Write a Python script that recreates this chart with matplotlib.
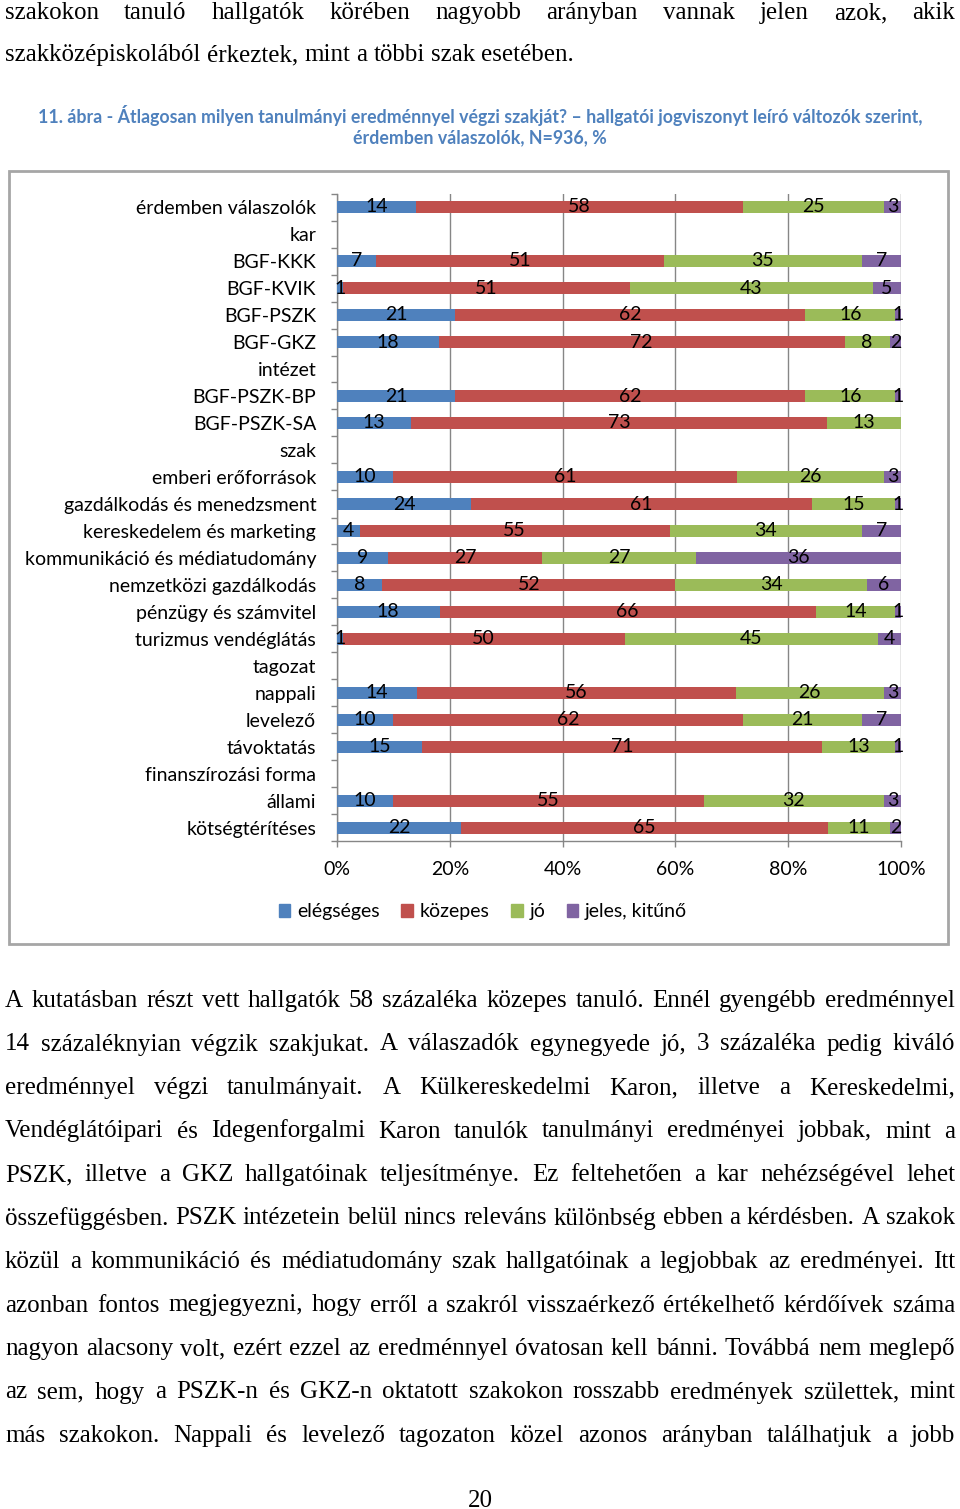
import numpy as np
import matplotlib
matplotlib.use("Agg")
import matplotlib.pyplot as plt
from matplotlib.patches import Rectangle, Patch

# adatok
kategoriak = ["érdemben válaszolók", "kar", "BGF-KKK", "BGF-KVIK", "BGF-PSZK", "BGF-GKZ",
              "intézet", "BGF-PSZK-BP", "BGF-PSZK-SA", "szak", "emberi erőforrások",
              "gazdálkodás és menedzsment", "kereskedelem és marketing",
              "kommunikáció és médiatudomány", "nemzetközi gazdálkodás",
              "pénzügy és számvitel", "turizmus vendéglátás", "tagozat", "nappali",
              "levelező", "távoktatás", "finanszírozási forma", "állami", "kötségtérítéses"]
nan = np.nan
elegseges = [14, nan, 7, 1, 21, 18, nan, 21, 13, nan, 10, 24, 4, 9, 8, 18, 1, nan, 14, 10, 15, nan, 10, 22]
kozepes = [58, nan, 51, 51, 62, 72, nan, 62, 73, nan, 61, 61, 55, 27, 52, 66, 50, nan, 56, 62, 71, nan, 55, 65]
jo = [25, nan, 35, 43, 16, 8, nan, 16, 13, nan, 26, 15, 34, 27, 34, 14, 45, nan, 26, 21, 13, nan, 32, 11]
jeles = [3, nan, 7, 5, 1, 2, nan, 1, 0, nan, 3, 1, 7, 36, 6, 1, 4, nan, 3, 7, 1, nan, 3, 2]
sorozatok = ["elégséges", "közepes", "jó", "jeles, kitűnő"]
szinek = ["#4F81BD", "#C0504D", "#9BBB59", "#8064A2"]
x_cimkek = ["0%", "20%", "40%", "60%", "80%", "100%"]

felso_sorok = ["szakokon tanuló hallgatók körében nagyobb arányban vannak jelen azok, akik",
               "szakközépiskolából érkeztek, mint a többi szak esetében."]
cim = ["11. ábra - Átlagosan milyen tanulmányi eredménnyel végzi szakját? – hallgatói jogviszonyt leíró változók szerint,",
       "érdemben válaszolók, N=936, %"]
bekezdes = [
    "A kutatásban részt vett hallgatók 58 százaléka közepes tanuló. Ennél gyengébb eredménnyel",
    "14 százaléknyian végzik szakjukat. A válaszadók egynegyede jó, 3 százaléka pedig kiváló",
    "eredménnyel végzi tanulmányait. A Külkereskedelmi Karon, illetve a Kereskedelmi,",
    "Vendéglátóipari és Idegenforgalmi Karon tanulók tanulmányi eredményei jobbak, mint a",
    "PSZK, illetve a GKZ hallgatóinak teljesítménye. Ez feltehetően a kar nehézségével lehet",
    "összefüggésben. PSZK intézetein belül nincs releváns különbség ebben a kérdésben. A szakok",
    "közül a kommunikáció és médiatudomány szak hallgatóinak a legjobbak az eredményei. Itt",
    "azonban fontos megjegyezni, hogy erről a szakról visszaérkező értékelhető kérdőívek száma",
    "nagyon alacsony volt, ezért ezzel az eredménnyel óvatosan kell bánni. Továbbá nem meglepő",
    "az sem, hogy a PSZK-n és GKZ-n oktatott szakokon rosszabb eredmények születtek, mint",
    "más szakokon. Nappali és levelező tagozaton közel azonos arányban találhatjuk a jobb",
]

W, H = 960, 1509
fig = plt.figure(figsize=(W / 100, H / 100), dpi=100)
renderer = fig.canvas.get_renderer()
BETU = 14


def fx(px):
    return px / W


def fy(py):
    return 1 - py / H


def sorkizart(sor, y, bal=5, jobb=955, meret=18, sorkiz=True):
    szavak = sor.split(" ")
    elemek = [fig.text(0, fy(y), s, fontsize=meret, family="Liberation Serif",
                       ha="left", va="baseline") for s in szavak]
    szelek = [t.get_window_extent(renderer).width for t in elemek]
    if sorkiz and len(szavak) > 1:
        koz = (jobb - bal - sum(szelek)) / (len(szavak) - 1)
    else:
        koz = meret * 0.25 * 100 / 72
    x = bal
    for t, w in zip(elemek, szelek):
        t.set_x(fx(x))
        x += w + koz


# szöveg a diagram felett
sorkizart(felso_sorok[0], 19)
sorkizart(felso_sorok[1], 61, sorkiz=False)

for i, s in enumerate(cim):
    fig.text(0.5, fy(115 + 23 * i), s, fontsize=12.75, fontweight="bold", color="#4F81BD",
             family="Lato", ha="center", va="center")

# keret
fig.patches.append(Rectangle((fx(9), fy(944)), fx(939), (944 - 171) / H, transform=fig.transFigure,
                             fill=False, edgecolor="#A6A6A6", linewidth=2))

ax = fig.add_axes([fx(337), fy(841.5), fx(564), (841.5 - 193.5) / H])
y = np.arange(len(kategoriak))
adatok = np.array([elegseges, kozepes, jo, jeles], dtype=float)
osszeg = np.nansum(adatok, axis=0)
osszeg[osszeg == 0] = 1
bal = np.zeros(len(kategoriak))
for nev, ertek, szin in zip(sorozatok, adatok, szinek):
    szaz = np.nan_to_num(ertek / osszeg * 100)
    ax.barh(y, szaz, left=bal, height=0.42, color=szin, label=nev, zorder=3)
    for yi, (v, s, b) in enumerate(zip(ertek, szaz, bal)):
        if not np.isnan(v) and v > 0:
            ax.text(b + s / 2, yi, f"{int(v)}", ha="center", va="center", fontsize=BETU,
                    family="Lato", color="black", zorder=4)
    bal = bal + szaz

ax.set_xlim(0, 100)
ax.set_ylim(len(kategoriak) - 0.5, -0.5)
ax.set_xticks(np.arange(0, 101, 20))
ax.set_xticklabels(x_cimkek, fontsize=BETU, family="Lato")
ax.set_yticks(y)
ax.set_yticklabels(kategoriak, fontsize=BETU, family="Lato")
ax.set_yticks(np.arange(-0.5, len(kategoriak), 1), minor=True)
ax.tick_params(axis="y", which="major", length=0, pad=15)
ax.tick_params(axis="y", which="minor", length=4, color="#868686", width=1)
ax.tick_params(axis="x", length=4, color="#868686", width=1, pad=10)
ax.grid(axis="x", color="#868686", linewidth=1, zorder=0)
for s in ["top", "right"]:
    ax.spines[s].set_visible(False)
for s in ["left", "bottom"]:
    ax.spines[s].set_color("#868686")
    ax.spines[s].set_linewidth(1)

fogantyuk = [Patch(color=c) for c in szinek]
fig.legend(fogantyuk, sorozatok, loc="center", bbox_to_anchor=(fx(483), fy(912)), ncol=4,
           frameon=False, handlelength=0.6, handleheight=0.6, handletextpad=0.35,
           columnspacing=1.1, prop={"family": "Lato", "size": BETU})

# szöveg a diagram alatt
for i, s in enumerate(bekezdes):
    sorkizart(s, 1007 + 43.5 * i)

fig.text(fx(480), fy(1507), "20", fontsize=18, family="Liberation Serif", ha="center", va="baseline")

fig.savefig("out.png", dpi=100)
